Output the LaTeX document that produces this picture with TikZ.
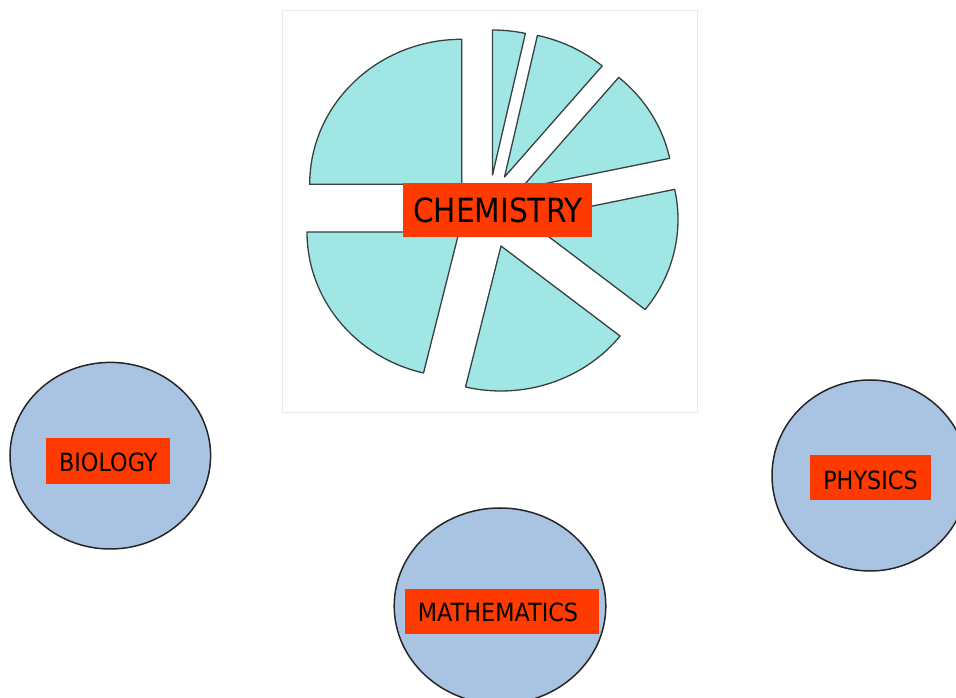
\documentclass[tikz,border=0pt]{standalone}
\usepackage{fontspec}
\usetikzlibrary{shapes.geometric}
\newfontfamily\labfont[FakeStretch=0.89]{DejaVu Sans}
\definecolor{slicefill}{RGB}{160,230,228}
\definecolor{sliceline}{RGB}{55,65,65}
\definecolor{ballfill}{RGB}{169,196,226}
\definecolor{labred}{RGB}{255,58,0}
\definecolor{boxline}{RGB}{232,232,232}
\tikzset{
  slice/.style={fill=slicefill, draw=sliceline, line width=1.3pt, line join=round},
  piearc/.style={x radius=152pt, y radius=145pt},
  ball/.style={ellipse, fill=ballfill, draw=black!85, line width=1.5pt, inner sep=0pt},
  labbox/.style={rectangle, fill=labred, draw=none, inner sep=0pt},
  labtext/.style={anchor=base, inner sep=0pt, font=\labfont\fontsize{25.1}{30}\selectfont},
  bigtext/.style={anchor=base, inner sep=0pt, font=\labfont\fontsize{33.3}{40}\selectfont}
}
\begin{document}
\begin{tikzpicture}[x=1pt,y=1pt]
\clip (0,0) rectangle (956,698);
\fill[white] (0,0) rectangle (956,698);
% pie chart panel
\draw[boxline, fill=white, line width=0.8pt] (282.5,688) rectangle (697,285.5);
\coordinate (pA) at (461.7,513.7);
\coordinate (pB) at (459,466);
\coordinate (pC) at (501,452);
\coordinate (pD) at (526,478.5);
\coordinate (pE) at (521,509.5);
\coordinate (pF) at (504.5,521);
\coordinate (pG) at (492.5,523);
\draw[slice] (pA) -- ++(90:152pt and 145pt) arc[piearc, start angle=90, end angle=180] -- cycle;
\draw[slice] (pB) -- ++(180:152pt and 145pt) arc[piearc, start angle=180, end angle=256.5] -- cycle;
\draw[slice] (pC) -- ++(256.5:152pt and 145pt) arc[piearc, start angle=256.5, end angle=321.6] -- cycle;
\draw[slice] (pD) -- ++(-38.4:152pt and 145pt) arc[piearc, start angle=-38.4, end angle=12] -- cycle;
\draw[slice] (pE) -- ++(12:152pt and 145pt) arc[piearc, start angle=12, end angle=50] -- cycle;
\draw[slice] (pF) -- ++(50:152pt and 145pt) arc[piearc, start angle=50, end angle=77.5] -- cycle;
\draw[slice] (pG) -- ++(77.5:152pt and 145pt) arc[piearc, start angle=77.5, end angle=90] -- cycle;
\node[labbox, minimum width=189pt, minimum height=54pt] (chemBox) at (497.5,488) {};
\node[bigtext] (chemText) at (498,475) {CHEMISTRY};
% biology
\node[ball, minimum width=200.6pt, minimum height=186.6pt] (bio) at (110.3,242.3) {};
\node[labbox, minimum width=124pt, minimum height=45.7pt] (bioBox) at (108,236.85) {};
\node[labtext] (bioText) at (108.3,226.3) {BIOLOGY};
% mathematics
\node[ball, minimum width=211.6pt, minimum height=196pt] (math) at (500,92) {};
\node[labbox, minimum width=194pt, minimum height=45pt] (mathBox) at (502,86.5) {};
\node[labtext] (mathText) at (498,76.3) {MATHEMATICS};
% physics
\node[ball, minimum width=196pt, minimum height=191pt] (phys) at (870,222.5) {};
\node[labbox, minimum width=120.7pt, minimum height=45pt] (physBox) at (870.35,220.5) {};
\node[labtext] (physText) at (870.5,208.7) {PHYSICS};
\end{tikzpicture}
\end{document}
